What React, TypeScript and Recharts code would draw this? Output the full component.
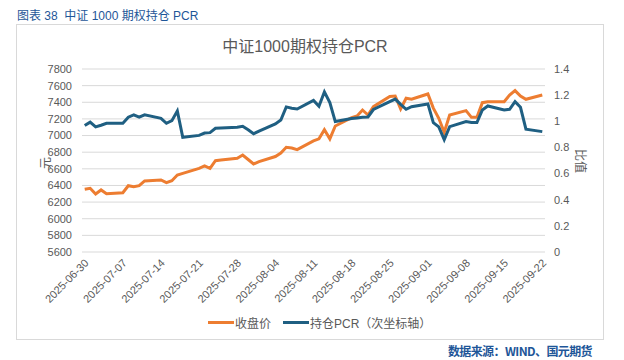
import { LineChart, Line, XAxis, YAxis, CartesianGrid } from "recharts";

// trading days shown on the chart
const dates = [
  "2025-06-30", "2025-07-01", "2025-07-02", "2025-07-03", "2025-07-04",
  "2025-07-07", "2025-07-08", "2025-07-09", "2025-07-10", "2025-07-11",
  "2025-07-14", "2025-07-15", "2025-07-16", "2025-07-17", "2025-07-18",
  "2025-07-21", "2025-07-22", "2025-07-23", "2025-07-24", "2025-07-25",
  "2025-07-28", "2025-07-29", "2025-07-30", "2025-07-31", "2025-08-01",
  "2025-08-04", "2025-08-05", "2025-08-06", "2025-08-07", "2025-08-08",
  "2025-08-11", "2025-08-12", "2025-08-13", "2025-08-14", "2025-08-15",
  "2025-08-18", "2025-08-19", "2025-08-20", "2025-08-21", "2025-08-22",
  "2025-08-25", "2025-08-26", "2025-08-27", "2025-08-28", "2025-08-29",
  "2025-09-01", "2025-09-02", "2025-09-03", "2025-09-04", "2025-09-05",
  "2025-09-08", "2025-09-09", "2025-09-10", "2025-09-11", "2025-09-12",
  "2025-09-15", "2025-09-16", "2025-09-17", "2025-09-18", "2025-09-19",
  "2025-09-22",
];

// 收盘价 (left axis, 元)
const closePrice = [
  6354, 6366, 6297, 6346, 6301,
  6313, 6397, 6385, 6397, 6454,
  6466, 6433, 6457, 6526, 6546,
  6606, 6634, 6606, 6698, 6705,
  6727, 6766, 6712, 6658, 6686,
  6748, 6790, 6859, 6850, 6830,
  6935, 6960, 7070, 6960, 7115,
  7215, 7235, 7307, 7247, 7347,
  7470, 7475, 7320, 7448, 7436,
  7500, 7330, 7207, 7040, 7247,
  7299, 7219, 7219, 7395, 7407,
  7407, 7487, 7540, 7475, 7436,
  7487,
];

// 持仓PCR (right axis)
const pcr = [
  0.967, 0.993, 0.957, 0.97, 0.985,
  0.985, 1.031, 1.049, 1.031, 1.049,
  1.023, 0.985, 1.005, 1.079, 0.878,
  0.892, 0.91, 0.913, 0.946, 0.948,
  0.955, 0.962, 0.935, 0.905, 0.925,
  0.98, 1.01, 1.11, 1.1, 1.094,
  1.16, 1.115, 1.225, 1.143, 0.998,
  1.022, 1.026, 1.03, 1.033, 1.09,
  1.15, 1.17, 1.13, 1.092, 1.112,
  1.133, 0.99, 0.957, 0.86, 0.959,
  0.998, 0.99, 0.99, 1.087, 1.117,
  1.087, 1.092, 1.15, 1.107, 0.94,
  0.921,
];

const xTickDates = [
  "2025-06-30", "2025-07-07", "2025-07-14", "2025-07-21", "2025-07-28",
  "2025-08-04", "2025-08-11", "2025-08-18", "2025-08-25", "2025-09-01",
  "2025-09-08", "2025-09-15", "2025-09-22",
];
const leftTicks = [5600, 5800, 6000, 6200, 6400, 6600, 6800, 7000, 7200, 7400, 7600, 7800];
const rightTicks = [0, 0.2, 0.4, 0.6, 0.8, 1, 1.2, 1.4];

const ORANGE = "#ED7D31";
const BLUE = "#1F5F82";
const GRID = "#D9D9D9";
const TEXT = "#595959";
const HEAD = "#1E5698";
const FONT = '"Liberation Sans", Arial, "Noto Sans CJK SC", sans-serif';

const DAY = 86400000;
const start = Date.parse(dates[0]);
const dayIndex = (s: string) => Math.round((Date.parse(s) - start) / DAY);
const dayLabel = (d: number) => new Date(start + d * DAY).toISOString().slice(0, 10);

const data = dates.map((date, i) => ({
  day: dayIndex(date),
  close: closePrice[i],
  pcr: pcr[i],
}));
const xTicks = xTickDates.map(dayIndex);

function DateTick({ x, y, payload }: { x?: number; y?: number; payload?: { value: number } }) {
  const tx = (x ?? 0) + 2;
  const ty = (y ?? 0) + 1;
  return (
    <text
      x={tx}
      y={ty}
      dy="0.35em"
      transform={`rotate(-45 ${tx} ${ty})`}
      textAnchor="end"
      fontSize={11}
      fill={TEXT}
      fontFamily={FONT}
    >
      {dayLabel(payload?.value ?? 0)}
    </text>
  );
}

const tickStyle = { fontSize: 11, fill: TEXT, fontFamily: FONT };

export default function App() {
  return (
    <div
      style={{
        position: "absolute",
        left: 0,
        top: 0,
        width: 624,
        height: 360,
        background: "#fff",
        fontFamily: FONT,
      }}
    >
      <div style={{ position: "absolute", left: 17, top: 6, fontSize: 12, color: HEAD, whiteSpace: "nowrap" }}>
        图表 38&nbsp; 中证 1000 期权持仓 PCR
      </div>
      <div
        style={{
          position: "absolute",
          left: 16,
          top: 24,
          width: 586,
          height: 314,
          border: "1px solid #D9D9D9",
        }}
      />
      <div
        style={{
          position: "absolute",
          left: 0,
          width: 610,
          top: 33,
          textAlign: "center",
          fontSize: 16,
          color: TEXT,
          whiteSpace: "nowrap",
        }}
      >
        中证1000期权持仓PCR
      </div>

      <div style={{ position: "absolute", left: 0, top: 0 }}>
        <LineChart
          width={624}
          height={360}
          data={data}
          margin={{ top: 69, right: 0, bottom: 58, left: 0 }}
        >
          <CartesianGrid stroke={GRID} vertical={false} yAxisId="left" />
          <XAxis
            dataKey="day"
            type="number"
            domain={[-0.5, 84.5]}
            ticks={xTicks}
            interval={0}
            tick={<DateTick />}
            tickLine={false}
            axisLine={false}
            height={50}
          />
          <YAxis
            yAxisId="left"
            domain={[5600, 7800]}
            ticks={leftTicks}
            width={82}
            tick={tickStyle}
            tickLine={false}
            axisLine={false}
            tickMargin={4}
            interval={0}
          />
          <YAxis
            yAxisId="right"
            orientation="right"
            domain={[0, 1.4]}
            ticks={rightTicks}
            width={79}
            tick={tickStyle}
            tickLine={false}
            axisLine={false}
            tickMargin={3}
            interval={0}
            tickFormatter={(v: number) => String(Number(v.toFixed(1)))}
          />
          <Line
            yAxisId="left"
            type="linear"
            dataKey="close"
            stroke={ORANGE}
            strokeWidth={3}
            dot={false}
            isAnimationActive={false}
          />
          <Line
            yAxisId="right"
            type="linear"
            dataKey="pcr"
            stroke={BLUE}
            strokeWidth={3}
            dot={false}
            isAnimationActive={false}
          />
        </LineChart>
      </div>

      <div
        style={{
          position: "absolute",
          left: 38,
          top: 163,
          fontSize: 12,
          color: TEXT,
          transform: "translate(0, -50%) rotate(-90deg)",
        }}
      >
        元
      </div>
      <div
        style={{
          position: "absolute",
          left: 581,
          top: 161,
          fontSize: 12,
          color: TEXT,
          transform: "translate(-50%, -50%) rotate(90deg)",
          whiteSpace: "nowrap",
        }}
      >
        比值
      </div>

      <div
        style={{
          position: "absolute",
          left: 208,
          top: 314,
          display: "flex",
          alignItems: "center",
          fontSize: 12,
          color: TEXT,
          whiteSpace: "nowrap",
        }}
      >
        <span style={{ display: "inline-block", width: 26, height: 3, background: ORANGE }} />
        <span style={{ marginLeft: 1 }}>收盘价</span>
        <span style={{ display: "inline-block", width: 26, height: 3, background: BLUE, marginLeft: 12 }} />
        <span style={{ marginLeft: 1 }}>持仓PCR（次坐标轴）</span>
      </div>

      <div
        style={{
          position: "absolute",
          right: 32,
          top: 342,
          fontSize: 12,
          fontWeight: 700,
          color: HEAD,
          whiteSpace: "nowrap",
          fontFamily: '"Noto Sans CJK SC", sans-serif',
          letterSpacing: -0.6,
        }}
      >
        数据来源：WIND、国元期货
      </div>
    </div>
  );
}
